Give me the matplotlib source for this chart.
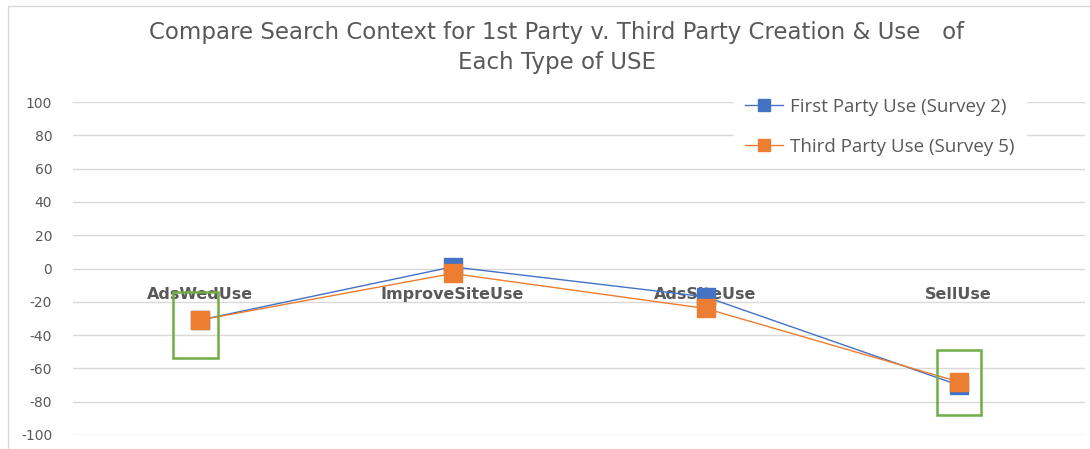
import matplotlib
matplotlib.use("Agg")
import matplotlib.pyplot as plt
from matplotlib.patches import Rectangle

categories = ["AdsWedUse", "ImproveSiteUse", "AdsSiteUse", "SellUse"]
first_party = [-31, 1, -17, -70]
third_party = [-31, -3, -24, -68]
yticks = [100, 80, 60, 40, 20, 0, -20, -40, -60, -80, -100]

BLUE = "#4472C4"
ORANGE = "#ED7D31"
GREEN = "#70AD47"
GRAY = "#595959"

plt.rcParams['font.family'] = ['Open Sans', 'DejaVu Sans']

fig = plt.figure(figsize=(10.9, 4.49), dpi=100)
ax = fig.add_axes([73/1090, 14/449, (1085-73)/1090, (435-102)/449])

x = list(range(len(categories)))
ax.plot(x, first_party, color=BLUE, lw=1, marker='s', ms=13, mec=BLUE, mfc=BLUE,
        label="First Party Use (Survey 2)", zorder=3)
ax.plot(x, third_party, color=ORANGE, lw=1, marker='s', ms=13, mec=ORANGE, mfc=ORANGE,
        label="Third Party Use (Survey 5)", zorder=4)

ax.set_xlim(-0.5, len(categories) - 0.5)
ax.set_ylim(-100, 100)
ax.set_yticks(yticks)
ax.set_yticklabels([str(t) for t in yticks], color=GRAY, fontsize=10,
                   family=['DejaVu Sans'])
ax.tick_params(axis='y', length=0, pad=15)
ax.grid(axis='y', color="#D9D9D9", lw=1)
ax.set_axisbelow(True)
for s in ax.spines.values():
    s.set_visible(False)

# category labels placed next to the zero line
ax.set_xticks([])
for xi, c in zip(x, categories):
    ax.text(xi, -15.5, c, ha='center', va='center', fontsize=11.5, fontweight='bold',
            color=GRAY, zorder=2, family=['DejaVu Sans'])

# green highlight boxes
ax.add_patch(Rectangle((-0.105, -54), 0.178, 39.6, fill=False, ec=GREEN, lw=1.8, zorder=5))
ax.add_patch(Rectangle((3 - 0.085, -87.7), 0.174, 38.5, fill=False, ec=GREEN, lw=1.8, zorder=5))

leg = ax.legend(loc='upper left', bbox_to_anchor=(0.644, 1.074), frameon=True, framealpha=1,
                edgecolor='white', facecolor='white', fontsize=13.5, labelspacing=1.15,
                markerscale=0.7, handlelength=2.0, borderpad=0.6, handletextpad=0.4)
for t in leg.get_texts():
    t.set_color(GRAY)

fig.text(557/1090, 1 - 33/449, "Compare Search Context for 1st Party v. Third Party Creation & Use   of",
         ha='center', va='center', fontsize=16.5, color=GRAY, family=['DejaVu Sans'])
fig.text(557/1090, 1 - 63/449, "Each Type of USE",
         ha='center', va='center', fontsize=16.5, color=GRAY, family=['DejaVu Sans'])

# chart border
fig.add_artist(Rectangle((8/1090, -0.1), 1.2, 1 - 6/449 + 0.1, transform=fig.transFigure,
                         fill=False, ec="#D9D9D9", lw=1))

fig.savefig("out.png", dpi=100)
